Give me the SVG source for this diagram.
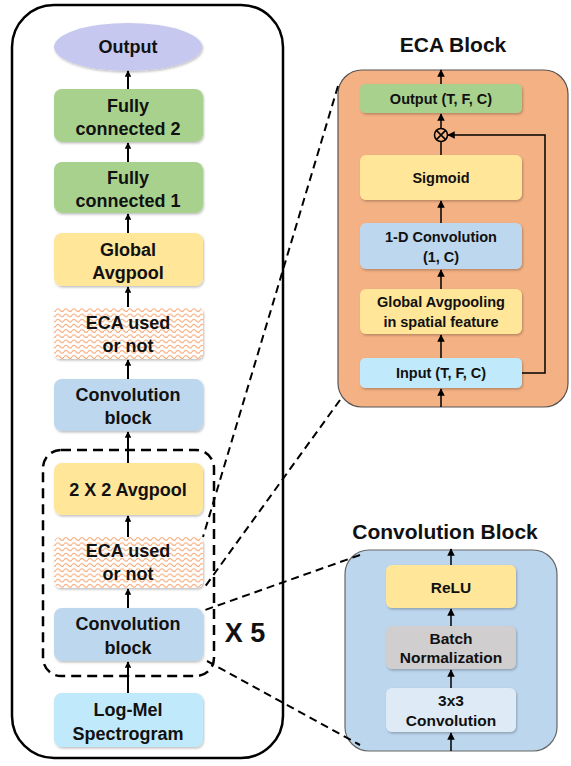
<svg xmlns="http://www.w3.org/2000/svg" width="571" height="766" viewBox="0 0 571 766">
<defs>
<pattern id="zig" width="8" height="5.2" patternUnits="userSpaceOnUse">
<rect width="8" height="5.2" fill="#ffffff"/>
<path d="M0 3.4 Q2 0.6 4 3.4 T8 3.4" fill="none" stroke="#f6a877" stroke-width="1.1"/>
</pattern>
<marker id="ah" viewBox="0 0 10 10" refX="9" refY="5" markerWidth="3.2" markerHeight="3.2" orient="auto">
<path d="M0 0 L10 5 L0 10 z" fill="#000"/>
</marker>
<marker id="ahs" viewBox="0 0 10 10" refX="9" refY="5" markerWidth="5" markerHeight="5" orient="auto">
<path d="M0 0 L10 5 L0 10 z" fill="#000"/>
</marker>
<filter id="sh" x="-10%" y="-10%" width="120%" height="130%">
<feDropShadow dx="1" dy="1.5" stdDeviation="1" flood-color="#000" flood-opacity="0.25"/>
</filter>
</defs>
<style>
.t{font-family:"Liberation Sans",Arial,sans-serif;font-weight:bold;fill:#111;text-anchor:middle}
.l{font-size:18px}
.s{font-size:14.5px}
.c{font-size:15.5px}
.h{font-size:21px}
.a{stroke:#000;stroke-width:2;fill:none;marker-end:url(#ah)}
.b{stroke:#000;stroke-width:1.5;fill:none;marker-end:url(#ahs)}
.d{stroke:#000;stroke-width:2;fill:none;stroke-dasharray:8 5}
</style>

<rect x="12" y="5" width="271" height="753" rx="42" fill="none" stroke="#000" stroke-width="2.5"/>
<rect x="43" y="450" width="171" height="226" rx="18" fill="none" stroke="#000" stroke-width="2.5" stroke-dasharray="10 6"/>

<g id="output">
<ellipse cx="128" cy="47" rx="74" ry="24" fill="#c6c8ef" filter="url(#sh)"/>
<text class="t l" x="128" y="53">Output</text>
</g>
<g id="fc2">
<rect x="54" y="89" width="149" height="53" rx="8" fill="#a9d18e" filter="url(#sh)"/>
<text class="t l" x="128" y="112">Fully</text>
<text class="t l" x="128" y="135">connected 2</text>
</g>
<g id="fc1">
<rect x="54" y="162" width="149" height="51" rx="8" fill="#a9d18e" filter="url(#sh)"/>
<text class="t l" x="128" y="184">Fully</text>
<text class="t l" x="128" y="207">connected 1</text>
</g>
<g id="gap">
<rect x="54" y="233" width="149" height="53" rx="8" fill="#ffe699" filter="url(#sh)"/>
<text class="t l" x="128" y="256">Global</text>
<text class="t l" x="128" y="279">Avgpool</text>
</g>
<g id="eca1">
<rect x="54" y="307" width="149" height="52" rx="6" fill="url(#zig)" filter="url(#sh)"/>
<text class="t l" x="128" y="329">ECA used</text>
<text class="t l" x="128" y="352">or not</text>
</g>
<g id="conv1">
<rect x="54" y="379" width="149" height="52" rx="8" fill="#bdd7ee" filter="url(#sh)"/>
<text class="t l" x="128" y="401">Convolution</text>
<text class="t l" x="128" y="424">block</text>
</g>
<g id="avgpool2">
<rect x="54" y="463" width="149" height="52" rx="8" fill="#ffe699" filter="url(#sh)"/>
<text class="t l" x="128" y="496">2 X 2 Avgpool</text>
</g>
<g id="eca2">
<rect x="54" y="537" width="149" height="51" rx="6" fill="url(#zig)" filter="url(#sh)"/>
<text class="t l" x="128" y="557">ECA used</text>
<text class="t l" x="128" y="580">or not</text>
</g>
<g id="conv2">
<rect x="54" y="608" width="149" height="53" rx="8" fill="#bdd7ee" filter="url(#sh)"/>
<text class="t l" x="128" y="630">Convolution</text>
<text class="t l" x="128" y="654">block</text>
</g>
<g id="logmel">
<rect x="54" y="693" width="149" height="54" rx="8" fill="#c0e9fb" filter="url(#sh)"/>
<text class="t l" x="128" y="716">Log-Mel</text>
<text class="t l" x="128" y="740">Spectrogram</text>
</g>
<text class="t" x="245" y="642" style="font-size:27px">X 5</text>

<g id="eca-block">
<text class="t h" x="453" y="52">ECA Block</text>
<rect x="338" y="70" width="230" height="337" rx="24" fill="#f4b183" stroke="#555" stroke-width="1.2"/>
<g id="eca-out">
<rect x="360" y="84" width="162" height="29" rx="5" fill="#a9d18e" filter="url(#sh)"/>
<text class="t s" x="441" y="104">Output (T, F, C)</text>
</g>
<g id="eca-mul">
<circle cx="441" cy="135" r="6.5" fill="none" stroke="#000" stroke-width="1.5"/>
<path d="M436.4 130.4 L445.6 139.6 M445.6 130.4 L436.4 139.6" stroke="#000" stroke-width="1.5"/>
</g>
<g id="eca-sig">
<rect x="360" y="155" width="162" height="45" rx="6" fill="#ffe699" filter="url(#sh)"/>
<text class="t s" x="441" y="183">Sigmoid</text>
</g>
<g id="eca-conv">
<rect x="360" y="223" width="162" height="46" rx="6" fill="#bdd7ee" filter="url(#sh)"/>
<text class="t s" x="441" y="242">1-D Convolution</text>
<text class="t s" x="441" y="262">(1, C)</text>
</g>
<g id="eca-gap">
<rect x="360" y="289" width="162" height="45" rx="6" fill="#ffe699" filter="url(#sh)"/>
<text class="t s" x="441" y="307">Global Avgpooling</text>
<text class="t s" x="441" y="327">in spatial feature</text>
</g>
<g id="eca-in">
<rect x="360" y="358" width="162" height="30" rx="5" fill="#c0e9fb" filter="url(#sh)"/>
<text class="t s" x="441" y="378">Input (T, F, C)</text>
</g>
</g>

<g id="conv-block">
<text class="t h" x="445" y="539">Convolution Block</text>
<rect x="345" y="550" width="212" height="201" rx="24" fill="#bcd6ee" stroke="#666" stroke-width="1.2"/>
<g id="cb-relu">
<rect x="386" y="565" width="130" height="43" rx="6" fill="#ffe699" filter="url(#sh)"/>
<text class="t c" x="451" y="593">ReLU</text>
</g>
<g id="cb-bn">
<rect x="386" y="626" width="130" height="43" rx="6" fill="#d0cece" filter="url(#sh)"/>
<text class="t c" x="451" y="644">Batch</text>
<text class="t c" x="451" y="663">Normalization</text>
</g>
<g id="cb-conv">
<rect x="386" y="688" width="130" height="44" rx="6" fill="#deebf7" filter="url(#sh)"/>
<text class="t c" x="451" y="706">3x3</text>
<text class="t c" x="451" y="726">Convolution</text>
</g>
</g>

<g id="connectors">
<line class="a" x1="128" y1="89" x2="128" y2="71"/>
<line class="a" x1="128" y1="162" x2="128" y2="143"/>
<line class="a" x1="128" y1="233" x2="128" y2="214"/>
<line class="a" x1="128" y1="307" x2="128" y2="287"/>
<line class="a" x1="128" y1="379" x2="128" y2="360"/>
<line class="a" x1="128" y1="463" x2="128" y2="432"/>
<line class="a" x1="128" y1="537" x2="128" y2="516"/>
<line class="a" x1="128" y1="608" x2="128" y2="589"/>
<line class="a" x1="128" y1="693" x2="128" y2="662"/>

<line class="b" x1="441" y1="84" x2="441" y2="70"/>
<line class="b" x1="441" y1="128" x2="441" y2="114"/>
<line x1="441" y1="155" x2="441" y2="141.5" stroke="#000" stroke-width="1.5"/>
<line class="b" x1="441" y1="223" x2="441" y2="201"/>
<line class="b" x1="441" y1="289" x2="441" y2="270"/>
<line class="b" x1="441" y1="358" x2="441" y2="335"/>
<line class="b" x1="441" y1="407" x2="441" y2="389"/>
<path class="b" d="M522 373 H545 V135 H448"/>

<line class="b" x1="451" y1="565" x2="451" y2="549"/>
<line class="b" x1="451" y1="626" x2="451" y2="609"/>
<line class="b" x1="451" y1="688" x2="451" y2="670"/>
<line class="b" x1="451" y1="751" x2="451" y2="733"/>

<line class="d" x1="338" y1="86" x2="203" y2="537"/>
<line class="d" x1="340" y1="400" x2="204" y2="588"/>
<line class="d" x1="360" y1="555" x2="205" y2="610"/>
<line class="d" x1="207" y1="661" x2="360" y2="745"/>
</g>
</svg>
